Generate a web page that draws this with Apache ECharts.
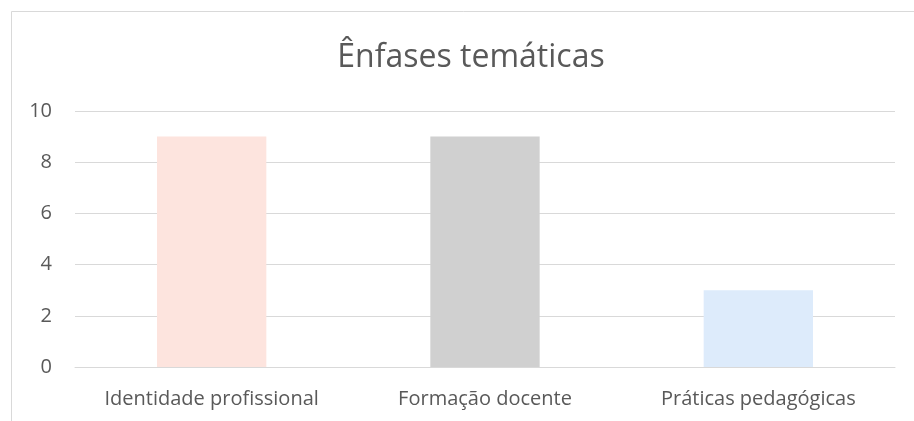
<!DOCTYPE html>
<html>
<head>
<meta charset="utf-8">
<style>
  html, body { margin: 0; padding: 0; background: #fff; }
  #chart { width: 914px; height: 421px; }
</style>
<script src="https://cdn.jsdelivr.net/npm/echarts@6/dist/echarts.min.js"></script>
</head>
<body>
<div id="chart"></div>
<script>
const categories = ['Identidade profissional', 'Formação docente', 'Práticas pedagógicas'];
const values = [9, 9, 3];
const barColors = ['#FDE4DE', '#D0D0D0', '#DDEBFB'];
const yTicks = { min: 0, max: 10, interval: 2 };

const font = '"Open Sans", "Liberation Sans", sans-serif';
const chart = echarts.init(document.getElementById('chart'));

chart.setOption({
    animation: false,
    backgroundColor: '#fff',
    title: {
        text: 'Ênfases temáticas',
        left: 466,
        top: 37,
        textAlign: 'center',
        textStyle: { color: '#595959', fontSize: 32, fontWeight: 'normal', fontFamily: font }
    },
    graphic: [{
        type: 'rect',
        shape: { x: 11.5, y: 11.5, width: 940, height: 440 },
        style: { fill: 'none', stroke: '#D9D9D9', lineWidth: 1 },
        silent: true
    }],
    grid: { left: 75, right: 19, top: 111, bottom: 54 },
    xAxis: {
        type: 'category',
        data: categories,
        axisLine: { show: true, lineStyle: { color: '#D9D9D9', width: 1 } },
        axisTick: { show: false },
        axisLabel: { color: '#595959', fontSize: 20, fontFamily: font, margin: 22, interval: 0 }
    },
    yAxis: {
        type: 'value',
        min: yTicks.min,
        max: yTicks.max,
        interval: yTicks.interval,
        axisLine: { show: false },
        axisTick: { show: false },
        splitLine: { lineStyle: { color: '#D9D9D9', width: 1 } },
        axisLabel: { color: '#595959', fontSize: 20, fontFamily: font, margin: 23 }
    },
    series: [{
        type: 'bar',
        data: values.map((v, i) => ({ value: v, itemStyle: { color: barColors[i] } })),
        barWidth: '40%'
    }]
});
</script>
</body>
</html>
